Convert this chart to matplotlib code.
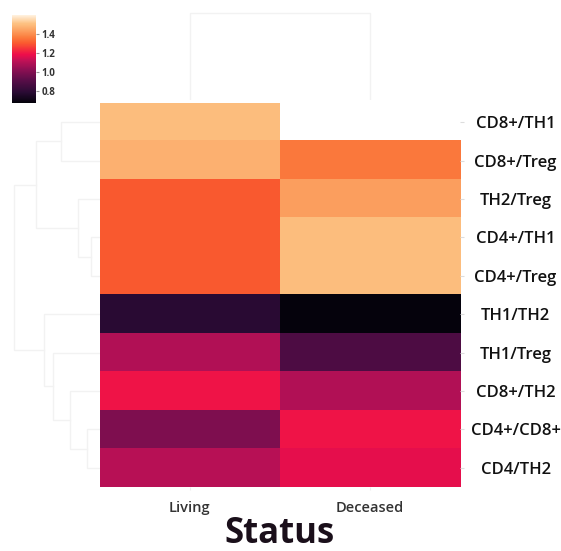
import matplotlib
matplotlib.use("Agg")
import matplotlib.pyplot as plt
import numpy as np
from matplotlib.colors import LinearSegmentedColormap

plt.rcParams['font.family'] = ['Open Sans', 'DejaVu Sans']

# ratios per cell-type pair, by patient status
pairs = ['CD8+/TH1', 'CD8+/Treg', 'TH2/Treg', 'CD4+/TH1', 'CD4+/Treg',
         'TH1/TH2', 'TH1/Treg', 'CD8+/TH2', 'CD4+/CD8+', 'CD4/TH2']
status = ['Living', 'Deceased']
living = [1.50, 1.47, 1.30, 1.30, 1.30, 0.78, 1.09, 1.19, 0.99, 1.10]
deceased = [np.nan, 1.36, 1.43, 1.50, 1.50, 0.68, 0.88, 1.09, 1.19, 1.17]
vmin, vmax = 0.67, 1.60
cbar_ticks = [0.8, 1.0, 1.2, 1.4]

# row tree: (left, right, height); ids >= 10 refer to earlier merges
row_links = [(3, 4, 0.10), (2, 10, 0.25), (0, 1, 0.45), (12, 11, 0.75),
             (8, 9, 0.15), (7, 14, 0.35), (6, 15, 0.55), (5, 16, 0.65),
             (13, 17, 1.0)]

# vivid rocket-like palette
cmap = LinearSegmentedColormap.from_list('vivid_rocket', [
    (0.00, '#03020a'), (0.12, '#2a0b34'), (0.25, '#560d47'),
    (0.38, '#8e0f53'), (0.48, '#c01156'), (0.55, '#ee0e4a'),
    (0.62, '#f5343a'), (0.68, '#fa5a2f'), (0.75, '#fb7d3e'),
    (0.82, '#fc9f5f'), (0.90, '#fdc080'), (1.00, '#fff2e0')])
cmap.set_bad('white')

data = np.ma.masked_invalid(np.column_stack([living, deceased]))

fig = plt.figure(figsize=(5.61, 5.51), dpi=100)
ax = fig.add_axes([0.178, 0.116, 0.642, 0.697])
im = ax.imshow(data, cmap=cmap, vmin=vmin, vmax=vmax, aspect='auto',
               interpolation='nearest')
for s in ax.spines.values():
    s.set_visible(False)
ax.yaxis.tick_right()
ax.set_yticks(range(len(pairs)))
ax.set_yticklabels(pairs, fontsize=12, fontweight='semibold', ha='center',
                   color='#111111')
ax.set_xticks(range(len(status)))
ax.set_xticklabels(status, fontsize=10.5, fontweight='semibold', color='#333333')
ax.tick_params(axis='y', length=3, color='#dddddd', pad=37)
ax.tick_params(axis='x', length=2, color='#eeeeee', pad=8)
ax.set_xlabel('Status', fontsize=25, fontweight='bold', labelpad=1,
              color='#1a0f1a')

# column tree
dax = fig.add_axes([0.178, 0.818, 0.642, 0.16])
dax.plot([0, 0, 1, 1], [0, 1, 1, 0], color='#f2f2f2', lw=1)
dax.set_xlim(-0.5, 1.5)
dax.set_ylim(0, 1.01)
dax.axis('off')

# row tree
rax = fig.add_axes([0.022, 0.116, 0.156, 0.697])
pos = {i: (float(i), 0.0) for i in range(len(pairs))}
for k, (a, b, h) in enumerate(row_links):
    (ya, ha), (yb, hb) = pos[a], pos[b]
    rax.plot([ha, h, h, hb], [ya, ya, yb, yb], color='#f2f2f2', lw=1)
    pos[len(pairs) + k] = ((ya + yb) / 2, h)
rax.set_ylim(len(pairs) - 0.5, -0.5)
rax.set_xlim(1.02, 0)
rax.axis('off')

cax = fig.add_axes([0.021, 0.813, 0.043, 0.16])
cb = fig.colorbar(im, cax=cax, ticks=cbar_ticks)
cb.outline.set_visible(False)
cb.ax.tick_params(labelsize=7, length=2, color='#999999', pad=2)
for t in cb.ax.get_yticklabels():
    t.set_fontweight('bold')
    t.set_color('#333333')

fig.savefig('out.png', dpi=100)
